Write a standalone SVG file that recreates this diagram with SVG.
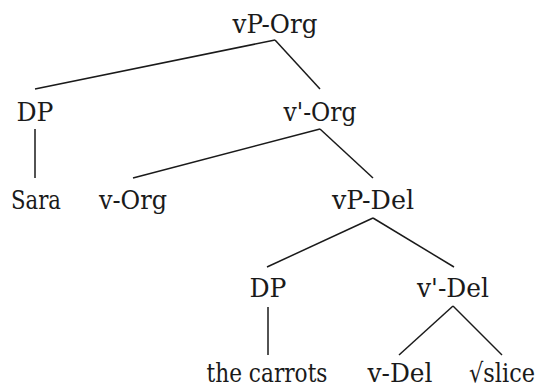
<svg xmlns="http://www.w3.org/2000/svg" width="542" height="389" viewBox="0 0 542 389">
<style>
.t text{font-family:'DejaVu Serif',serif;font-size:26.5px;fill:#1a1a1a;text-anchor:middle}
.c line{stroke:#1a1a1a;stroke-width:1.5;stroke-linecap:butt}
</style>
<rect width="542" height="389" fill="#fff"/>
<g class="c" id="connectors">
<line x1="275" y1="40" x2="35" y2="89"/>
<line x1="275" y1="40" x2="320" y2="89"/>
<line x1="35" y1="129" x2="35" y2="178"/>
<line x1="320" y1="129" x2="133" y2="178"/>
<line x1="320" y1="129" x2="373" y2="178"/>
<line x1="373" y1="218" x2="267" y2="267"/>
<line x1="373" y1="218" x2="454" y2="267"/>
<line x1="268" y1="307" x2="268" y2="355"/>
<line x1="453" y1="306" x2="399" y2="355"/>
<line x1="453" y1="306" x2="502" y2="355"/>
</g>
<g class="t">
<g id="vP-Org"><text x="275" y="33" textLength="85" lengthAdjust="spacingAndGlyphs">vP-Org</text></g>
<g id="DP1"><text x="35" y="121" textLength="37" lengthAdjust="spacingAndGlyphs">DP</text></g>
<g id="vbar-Org"><text x="320" y="121" textLength="73" lengthAdjust="spacingAndGlyphs">v'-Org</text></g>
<g id="Sara"><text x="36" y="209" textLength="50" lengthAdjust="spacingAndGlyphs">Sara</text></g>
<g id="v-Org"><text x="133" y="209" textLength="68" lengthAdjust="spacingAndGlyphs">v-Org</text></g>
<g id="vP-Del"><text x="373" y="209" textLength="82" lengthAdjust="spacingAndGlyphs">vP-Del</text></g>
<g id="DP2"><text x="268" y="297" textLength="37" lengthAdjust="spacingAndGlyphs">DP</text></g>
<g id="vbar-Del"><text x="453" y="297" textLength="72" lengthAdjust="spacingAndGlyphs">v'-Del</text></g>
<g id="carrots"><text x="267" y="382" textLength="121" lengthAdjust="spacingAndGlyphs">the carrots</text></g>
<g id="v-Del"><text x="400" y="382" textLength="65" lengthAdjust="spacingAndGlyphs">v-Del</text></g>
<g id="slice"><text x="502" y="382" textLength="66" lengthAdjust="spacingAndGlyphs">√slice</text></g>
</g>
</svg>
